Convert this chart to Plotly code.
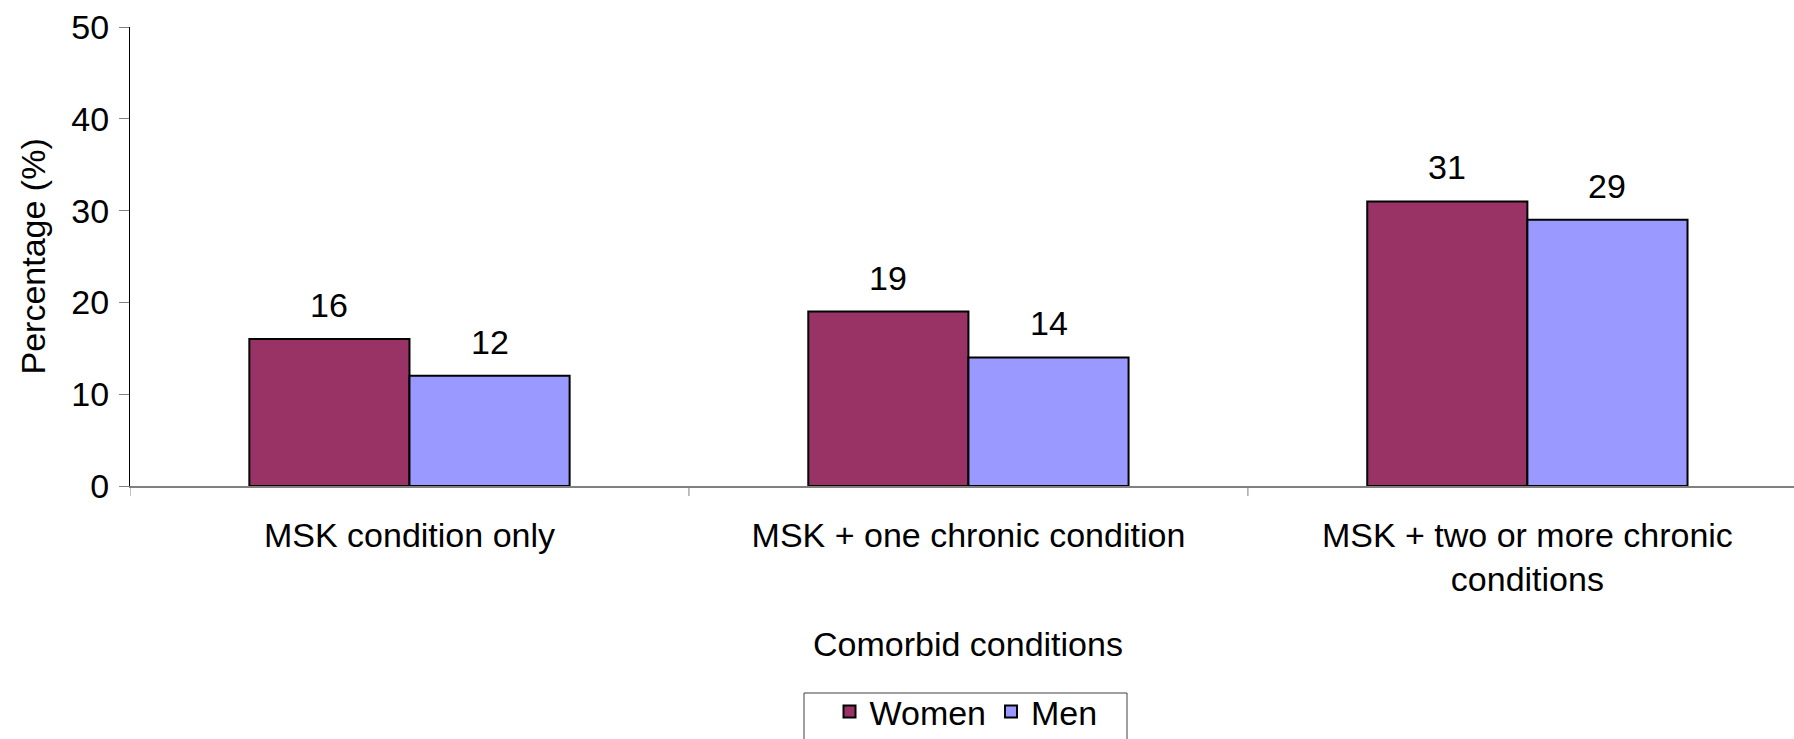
import plotly.graph_objects as go

# Share of respondents by comorbidity group and sex
categories = ["MSK condition only", "MSK + one chronic condition",
              "MSK + two or more chronic<br>conditions"]
women = [16, 19, 31]
men = [12, 14, 29]
y_ticks = [0, 10, 20, 30, 40, 50]

FONT = "Liberation Sans, Arial, sans-serif"
FS = 34
WOMEN_COLOR = "#993366"
MEN_COLOR = "#9999FF"
BAR_GAP = 0.427
half_bar = (1 - BAR_GAP) / 4  # offset from category centre to each bar's centre

PLOT_L, PLOT_R, PLOT_T, PLOT_B = 130, 1794, 27, 486
PLOT_W, PLOT_H = PLOT_R - PLOT_L, PLOT_B - PLOT_T


def px_x(x):
    return (x - PLOT_L) / PLOT_W


def px_y(y):
    return -(y - PLOT_B) / PLOT_H


fig = go.Figure()
fig.add_trace(go.Bar(name="Women", x=list(range(len(categories))), y=women,
                     marker=dict(color=WOMEN_COLOR, line=dict(color="black", width=2))))
fig.add_trace(go.Bar(name="Men", x=list(range(len(categories))), y=men,
                     marker=dict(color=MEN_COLOR, line=dict(color="black", width=2))))

# value labels above each bar
for i in range(len(categories)):
    for vals, off in ((women, -half_bar), (men, half_bar)):
        fig.add_annotation(x=i + off, y=vals[i], text=str(vals[i]), showarrow=False,
                           yanchor="middle", yshift=34,
                           font=dict(family=FONT, size=FS, color="black"))

# axis titles
fig.add_annotation(xref="paper", yref="paper", x=px_x(968), y=px_y(644),
                   text="Comorbid conditions", showarrow=False, yanchor="middle",
                   xanchor="center", font=dict(family=FONT, size=FS, color="black"))
fig.add_annotation(xref="paper", yref="paper", x=px_x(32), y=0.5,
                   text="Percentage (%)", textangle=-90, showarrow=False,
                   xanchor="center", yanchor="middle",
                   font=dict(family=FONT, size=FS, color="black"))

# legend frame (runs past the bottom edge of the figure)
fig.add_shape(type="rect", xref="paper", yref="paper",
              x0=px_x(804), x1=px_x(1127), y0=px_y(760), y1=px_y(693),
              line=dict(color="#404040", width=1), fillcolor="rgba(0,0,0,0)")

fig.update_layout(
    width=1794, height=739,
    margin=dict(l=PLOT_L, r=1794 - PLOT_R, t=PLOT_T, b=739 - PLOT_B, autoexpand=False),
    paper_bgcolor="white", plot_bgcolor="white",
    barmode="group", bargap=BAR_GAP, bargroupgap=0,
    font=dict(family=FONT, size=FS, color="black"),
    showlegend=True,
    legend=dict(orientation="h", x=px_x(966), xanchor="center",
                y=px_y(712), yanchor="middle",
                borderwidth=0, bgcolor="rgba(0,0,0,0)",
                font=dict(family=FONT, size=FS, color="black"),
                itemsizing="constant"),
    xaxis=dict(
        type="linear",
        range=[-0.5, 2.477],
        tickmode="array",
        tickvals=list(range(len(categories))),
        ticktext=categories,
        ticks="",
        showline=True, linecolor="#808080", linewidth=2,
        showgrid=False, zeroline=False,
        ticklabelstandoff=18,
        tickfont=dict(family=FONT, size=FS, color="black"),
    ),
    yaxis=dict(
        range=[0, 50],
        tickvals=y_ticks,
        ticks="outside", ticklen=10, tickcolor="#808080", tickwidth=1,
        showline=True, linecolor="black", linewidth=1,
        showgrid=False, zeroline=False,
        ticklabelstandoff=3,
        tickfont=dict(family=FONT, size=FS, color="black"),
    ),
)

# category boundary ticks below the x axis
for b in [-0.5, 0.5, 1.5, 2.5]:
    fig.add_shape(type="line", xref="x", yref="paper", x0=b, x1=b, y0=0, y1=-10 / PLOT_H,
                  line=dict(color="#808080", width=1))

fig.write_html("out.html")
